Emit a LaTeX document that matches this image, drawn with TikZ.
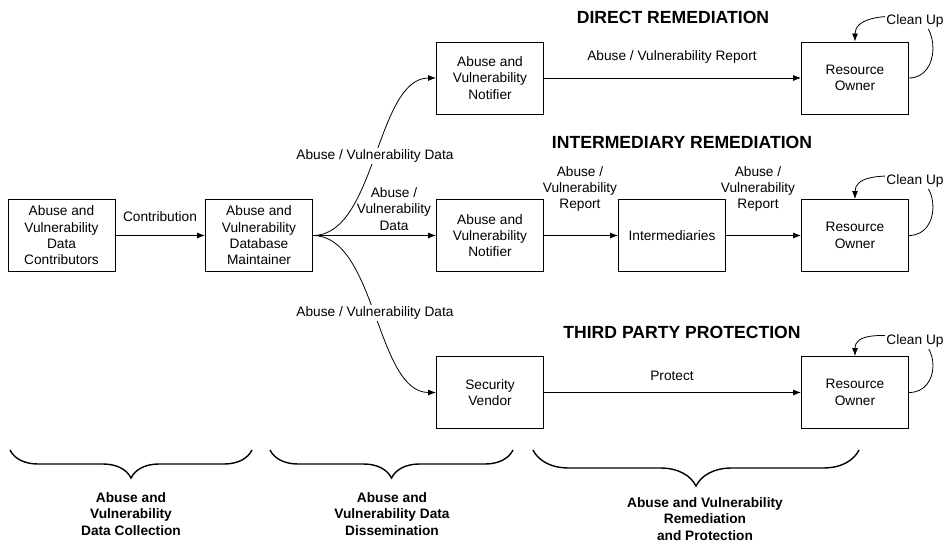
\documentclass[tikz,border=0pt]{standalone}
\usepackage{fontspec}
\setmainfont{Liberation Sans}
\usetikzlibrary{arrows.meta,decorations.pathreplacing,calc}
\begin{document}
\begin{tikzpicture}[x=1pt,y=-1pt,
  every node/.style={font=\fontsize{13.7}{16.3}\selectfont, align=center, inner sep=1pt},
  box/.style={draw, line width=0.9pt, minimum width=107pt, minimum height=72pt, inner sep=0pt},
  conn/.style={line width=0.8pt, -{Latex[length=8pt,width=6pt]}},
  head/.style={font=\fontsize{17.6}{20}\selectfont\bfseries},
  lbl/.style={fill=white, inner sep=1.5pt},
  brc/.style={decorate, line width=1.4pt, decoration={brace, amplitude=#1}},
  blbl/.style={font=\fontsize{13.7}{16.3}\selectfont\bfseries}
]
\useasboundingbox (0,0) rectangle (946,543);

% headings
\node[head] (h1) at (673,17) {DIRECT REMEDIATION};
\node[head] (h2) at (682,142) {INTERMEDIARY REMEDIATION};
\node[head] (h3) at (682,332) {THIRD PARTY PROTECTION};

% boxes
\node[box] (contrib) at (61.5,235.5) {Abuse and\\Vulnerability\\Data\\Contributors};
\node[box] (maint) at (259,235.5) {Abuse and\\Vulnerability\\Database\\Maintainer};
\node[box] (not1) at (490,78) {Abuse and\\Vulnerability\\Notifier};
\node[box] (not2) at (490,235.5) {Abuse and\\Vulnerability\\Notifier};
\node[box] (vend) at (490,392.5) {Security\\Vendor};
\node[box] (inter) at (672,235.5) {Intermediaries};
\node[box] (ro1) at (855,78) {Resource\\Owner};
\node[box] (ro2) at (855,235.5) {Resource\\Owner};
\node[box] (ro3) at (855,392.5) {Resource\\Owner};

% connectors
\draw[conn] (contrib) -- (maint);
\node (lc) at (160,217) {Contribution};

\draw[conn] (maint.east) .. controls (376,235.5) and (376,78) .. (not1.west);
\draw[conn] (maint.east) -- (not2.west);
\draw[conn] (maint.east) .. controls (376,235.5) and (376,392.5) .. (vend.west);
\node[lbl] (l1) at (375,156) {Abuse / Vulnerability Data};
\node[lbl] (l3) at (375,313) {Abuse / Vulnerability Data};
\node (l2) at (394,209) {Abuse /\\Vulnerability\\Data};

\draw[conn] (not1) -- (ro1);
\node (l4) at (672,57) {Abuse / Vulnerability Report};
\draw[conn] (not2) -- (inter);
\node (l5) at (580,189) {Abuse /\\Vulnerability\\Report};
\draw[conn] (inter) -- (ro2);
\node (l6) at (758,189) {Abuse /\\Vulnerability\\Report};
\draw[conn] (vend) -- (ro3);
\node (l7) at (672,376) {Protect};

% clean up loops
\foreach \r/\ly in {ro1/21, ro2/181, ro3/341}{
  \draw[conn] (\r.east) .. controls +(32,0) and (940,\ly) .. (912,\ly-4)
     .. controls (878,\ly-7) and ($(\r.north)+(0,-22)$) .. (\r.north);
  \node[lbl] at (915,\ly) {Clean Up};
}

% braces
\coordinate (b1l) at (10,450); \coordinate (b1r) at (252,450);
\coordinate (b2l) at (270,450); \coordinate (b2r) at (513,450);
\coordinate (b3l) at (533,450); \coordinate (b3r) at (859,450);
\draw[brc=28pt] (b1r) -- (b1l);
\draw[brc=28pt] (b2r) -- (b2l);
\draw[brc=36pt] (b3r) -- (b3l);
\node[blbl] (bl1) at (131,514) {Abuse and\\Vulnerability\\Data Collection};
\node[blbl] (bl2) at (392,514) {Abuse and\\Vulnerability Data\\Dissemination};
\node[blbl] (bl3) at (705,519) {Abuse and Vulnerability\\Remediation\\and Protection};
\end{tikzpicture}
\end{document}
